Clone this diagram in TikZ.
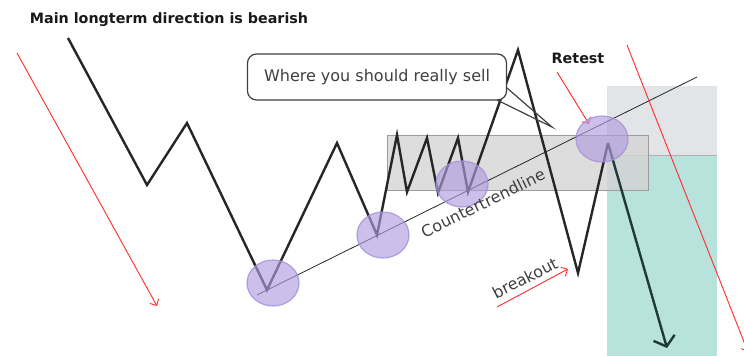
\documentclass[tikz,border=0pt]{standalone}
\usepackage{fontspec}
\setmainfont{DejaVu Sans}
\usetikzlibrary{arrows.meta,shapes.geometric,calc}
\definecolor{zig}{HTML}{262626}
\definecolor{tealbox}{HTML}{B8E2DC}
\definecolor{lgray}{HTML}{E3E4E7}
\definecolor{gbox}{HTML}{D4D4D4}
\definecolor{gboxline}{HTML}{9C9C9C}
\definecolor{purp}{HTML}{B09CDD}
\definecolor{purpline}{HTML}{A48FDA}
\definecolor{darrow}{HTML}{1F3A37}
\definecolor{txtgray}{HTML}{404040}
\definecolor{redarr}{HTML}{FF2A2A}
\tikzset{
  zigline/.style={draw=zig, line width=2.4pt, line join=miter},
  redarrow/.style={draw=redarr, line width=0.9pt, -{Straight Barb[length=5pt,width=10pt]}},
  spot/.style={ellipse, draw=purpline, line width=1.2pt, fill=purp, fill opacity=0.65, draw opacity=0.8, minimum width=52pt, minimum height=46pt, inner sep=0pt},
  note/.style={font=\fontsize{16}{19}\selectfont, text=txtgray},
  boldlab/.style={font=\bfseries\fontsize{14.3}{17}\selectfont, text=black!90},
}
\begin{document}
\begin{tikzpicture}[x=1pt,y=-1pt]
\useasboundingbox (0,0) rectangle (744,356);
% zones
\fill[lgray] (607,86) rectangle (717,155);
\fill[tealbox] (607,155) rectangle (717,356);
\draw[gboxline!80, line width=0.8pt] (607,155) -- (717,155);
\draw[gboxline, line width=1pt, fill=gbox, fill opacity=0.8] (387,135) rectangle (648,190);
% trendline
\coordinate (t0) at (257,295);
\coordinate (t1) at (697,77);
\draw[zig, line width=0.8pt] (t0) -- (t1);
% zigzag
\coordinate (p0) at (68,38);
\coordinate (p1) at (147,185);
\coordinate (p2) at (187,123);
\coordinate (p3) at (267,290);
\coordinate (p4) at (337,143);
\coordinate (p5) at (377,235);
\coordinate (p6) at (397,135);
\coordinate (p7) at (407,192);
\coordinate (p8) at (427,138);
\coordinate (p9) at (438,193);
\coordinate (p10) at (458,138);
\coordinate (p11) at (468,192);
\coordinate (p12) at (518,50);
\coordinate (p13) at (578,273);
\coordinate (p14) at (608,143);
\coordinate (p15) at (667,348);
\draw[zigline] (p0) -- (p1) -- (p2) -- (p3) -- (p4) -- (p5) -- (p6) -- (p7) -- (p8) -- (p9) -- (p10) -- (p11) -- (p12) -- (p13) -- (p14);
\draw[draw=darrow, line width=2.4pt, -{Straight Barb[length=9pt,width=22pt]}] (p14) -- (p15);
% red arrows
\coordinate (r1a) at (17,53);   \coordinate (r1b) at (157,306);
\coordinate (r2a) at (557,72);  \coordinate (r2b) at (589,124);
\coordinate (r3a) at (497,307); \coordinate (r3b) at (568,269);
\coordinate (r4a) at (627,45);  \coordinate (r4b) at (748,352);
\draw[redarrow] (r1a) -- (r1b);
\draw[redarrow] (r2a) -- (r2b);
\draw[redarrow] (r3a) -- (r3b);
\draw[redarrow] (r4a) -- (r4b);
% spots
\node[spot] (s1) at (273,283) {};
\node[spot] (s2) at (383,235) {};
\node[spot] (s3) at (462,184) {};
\node[spot] (s4) at (602,139) {};
% callout
\node[draw=txtgray, line width=1.2pt, rounded corners=9pt, fill=white, minimum width=259pt, minimum height=46pt, inner sep=0pt, note] (call) at (377,77) {Where you should really sell};
\coordinate (tip) at (552,127);
\draw[txtgray, line width=1.2pt] (497,100) -- (tip) -- (507,88);
% labels
\node[boldlab] (title) at (169,20) {Main longterm direction is bearish};
\node[boldlab] (retest) at (578,58) {Retest};
\node[note, rotate=26] (ctl) at (483,203) {Countertrendline};
\node[note, rotate=27] (bo) at (525,278) {breakout};
\end{tikzpicture}
\end{document}
